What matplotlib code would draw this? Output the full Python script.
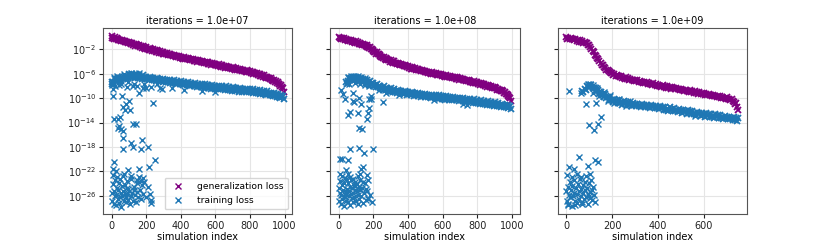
import numpy as np
import matplotlib
matplotlib.use("Agg")
import matplotlib.pyplot as plt

# iteration counts, one panel each
iterations = [1.0e7, 1.0e8, 1.0e9]

# ---- panel 1 (1e7) : log10 of losses, every 5th simulation ----
gen1_x = np.arange(0, 1000, 5)
gen1_log = [
    0.12, -0.13, -0.07, -0.29, -0.03, -0.28, -0.19, -0.44, -0.24, -0.49,
    -0.43, -0.65, -0.39, -0.64, -0.55, -0.80, -0.60, -0.85, -0.79, -1.01,
    -0.75, -1.00, -0.91, -1.16, -0.96, -1.21, -1.15, -1.37, -1.11, -1.36,
    -1.27, -1.52, -1.32, -1.57, -1.51, -1.73, -1.47, -1.72, -1.63, -1.88,
    -1.68, -1.92, -1.86, -2.07, -1.81, -2.05, -1.96, -2.20, -2.00, -2.24,
    -2.18, -2.39, -2.13, -2.37, -2.28, -2.52, -2.32, -2.56, -2.50, -2.71,
    -2.45, -2.69, -2.59, -2.83, -2.62, -2.86, -2.79, -3.00, -2.73, -2.97,
    -2.87, -3.11, -2.90, -3.14, -3.07, -3.28, -3.01, -3.25, -3.15, -3.39,
    -3.18, -3.41, -3.34, -3.54, -3.27, -3.50, -3.40, -3.63, -3.42, -3.65,
    -3.58, -3.78, -3.51, -3.74, -3.64, -3.87, -3.66, -3.89, -3.82, -4.02,
    -3.75, -3.98, -3.88, -4.11, -3.90, -4.13, -4.06, -4.26, -3.99, -4.22,
    -4.12, -4.35, -4.14, -4.37, -4.30, -4.50, -4.23, -4.46, -4.36, -4.59,
    -4.38, -4.61, -4.54, -4.74, -4.47, -4.70, -4.60, -4.83, -4.62, -4.85,
    -4.78, -4.98, -4.71, -4.94, -4.84, -5.07, -4.86, -5.09, -5.02, -5.22,
    -4.95, -5.18, -5.08, -5.31, -5.10, -5.33, -5.26, -5.46, -5.19, -5.42,
    -5.32, -5.55, -5.34, -5.57, -5.50, -5.70, -5.43, -5.66, -5.56, -5.79,
    -5.58, -5.82, -5.76, -5.97, -5.71, -5.95, -5.86, -6.10, -5.90, -6.14,
    -6.08, -6.30, -6.05, -6.30, -6.22, -6.47, -6.28, -6.53, -6.48, -6.70,
    -6.45, -6.72, -6.66, -6.93, -6.76, -7.03, -7.00, -7.24, -7.01, -7.28,
    -7.22, -7.52, -7.38, -7.68, -7.68, -8.00, -7.85, -8.25, -8.37, -8.92,
]
train1_x = np.arange(0, 1000, 5)
train1_log = [
    -7.36, -7.66, -7.36, -7.60, -6.90, -7.22, -6.89, -7.21, -6.66, -7.03,
    -6.81, -7.12, -6.50, -6.85, -6.54, -6.89, -6.36, -6.71, -6.46, -6.75,
    -6.10, -6.47, -6.19, -6.56, -6.06, -6.46, -6.28, -6.63, -6.05, -6.47,
    -6.24, -6.67, -6.22, -6.65, -6.48, -6.85, -6.28, -6.71, -6.48, -6.91,
    -6.46, -6.88, -6.70, -7.06, -6.48, -6.90, -6.66, -7.08, -6.62, -7.04,
    -6.86, -7.22, -6.64, -7.06, -6.82, -7.24, -6.78, -7.20, -7.02, -7.38,
    -6.80, -7.22, -6.98, -7.40, -6.94, -7.36, -7.18, -7.54, -6.96, -7.38,
    -7.14, -7.56, -7.10, -7.52, -7.34, -7.70, -7.12, -7.54, -7.30, -7.72,
    -7.26, -7.68, -7.50, -7.86, -7.28, -7.70, -7.46, -7.88, -7.42, -7.84,
    -7.66, -8.02, -7.44, -7.86, -7.62, -8.04, -7.58, -8.00, -7.82, -8.18,
    -7.60, -8.02, -7.77, -8.19, -7.72, -8.14, -7.95, -8.31, -7.72, -8.14,
    -7.89, -8.31, -7.85, -8.26, -8.06, -8.42, -7.85, -8.26, -8.01, -8.42,
    -7.96, -8.38, -8.19, -8.55, -7.96, -8.38, -8.13, -8.54, -8.08, -8.50,
    -8.31, -8.67, -8.08, -8.50, -8.26, -8.68, -8.20, -8.62, -8.43, -8.79,
    -8.20, -8.62, -8.37, -8.79, -8.32, -8.74, -8.55, -8.91, -8.32, -8.74,
    -8.49, -8.91, -8.45, -8.86, -8.66, -9.02, -8.45, -8.86, -8.61, -9.02,
    -8.56, -8.98, -8.80, -9.16, -8.58, -9.00, -8.76, -9.18, -8.72, -9.14,
    -8.96, -9.32, -8.74, -9.16, -8.92, -9.34, -8.88, -9.30, -9.12, -9.48,
    -8.90, -9.33, -9.10, -9.53, -9.08, -9.51, -9.34, -9.71, -9.14, -9.57,
    -9.34, -9.78, -9.34, -9.78, -9.62, -9.98, -9.54, -9.88, -9.70, -10.10,
]
# scattered training runs (index, log10 loss)
scat1_x = [8, 8, 61, 103, 84, 80, 107, 69, 122, 160, 179, 242, 290, 17, 36, 50,
           36, 55, 65, 46, 122, 141, 65, 65, 112, 122, 175, 170, 213, 17, 8, 23,
           93, 160, 217, 251, 227, 179, 170,
           20, 45, 90, 130, 150, 200, 230, 280, 350, 420, 520, 600,
           15, 30, 70, 110, 140, 160, 5, 55, 95, 185, 260]
scat1_log = [-8.5, -9.7, -9.6, -10.5, -11.0, -11.9, -12.0, -11.5, -8.0, -9.1, -8.3, -10.8, -8.5, -13.4, -13.4, -13.1,
             -14.9, -15.1, -15.4, -14.6, -14.3, -14.3, -16.5, -18.3, -17.3, -18.0, -16.8, -18.3, -18.0, -20.4, -21.7, -22.0,
             -21.8, -21.6, -21.3, -20.2, -26.7, -23.1, -23.6,
             -8.0, -7.8, -8.2, -7.6, -8.0, -8.3, -8.1, -8.3, -8.4, -8.6, -8.8, -9.0,
             -6.5, -6.3, -6.0, -5.9, -6.0, -5.8, -7.9, -7.6, -7.4, -7.6, -7.7]
clus1_x = [2, 5, 8, 12, 15, 18, 22, 25, 28, 32, 35, 38, 42, 45, 48, 52, 55, 58, 62, 65,
           68, 72, 75, 78, 82, 85, 88, 92, 95, 98, 102, 105, 110, 115, 120, 125, 130, 135, 140, 145,
           150, 155, 160, 165, 170, 175, 180, 190, 200, 210, 220, 230, 10, 30, 50, 70, 90, 110, 130, 150]
clus1_log = [-25.6, -26.8, -24.1, -27.3, -25.2, -26.1, -23.4, -27.6, -25.9, -24.7, -26.5, -25.1, -27.2, -23.9, -26.3,
             -25.5, -27.8, -24.4, -26.0, -25.3, -22.8, -26.9, -25.7, -24.2, -27.1, -26.2, -23.6, -25.8, -26.7, -24.9,
             -25.2, -27.4, -26.1, -23.3, -25.6, -26.8, -24.5, -25.9, -27.0, -24.0, -25.4, -26.3, -23.0, -25.1, -26.6,
             -24.3, -25.8, -23.8, -26.2, -24.6, -25.7, -27.2, -22.6, -22.9, -23.2, -22.4, -24.8, -22.7, -25.0, -23.5]

# ---- panel 2 (1e8) ----
gen2_x = np.arange(0, 1000, 5)
gen2_log = [
    0.07, -0.17, -0.11, -0.32, -0.06, -0.30, -0.21, -0.45, -0.25, -0.49,
    -0.43, -0.64, -0.38, -0.62, -0.53, -0.77, -0.57, -0.81, -0.75, -0.96,
    -0.70, -0.95, -0.86, -1.11, -0.91, -1.16, -1.10, -1.32, -1.06, -1.31,
    -1.22, -1.50, -1.34, -1.62, -1.60, -1.85, -1.66, -1.97, -1.95, -2.26,
    -2.13, -2.43, -2.43, -2.70, -2.50, -2.80, -2.77, -3.07, -2.93, -3.23,
    -3.23, -3.47, -3.24, -3.50, -3.44, -3.70, -3.53, -3.79, -3.76, -3.99,
    -3.75, -4.00, -3.92, -4.17, -3.98, -4.23, -4.18, -4.40, -4.15, -4.40,
    -4.32, -4.57, -4.38, -4.63, -4.58, -4.80, -4.55, -4.80, -4.72, -4.97,
    -4.78, -5.02, -4.96, -5.16, -4.90, -5.14, -5.05, -5.28, -5.08, -5.32,
    -5.26, -5.46, -5.20, -5.44, -5.35, -5.58, -5.38, -5.62, -5.56, -5.76,
    -5.50, -5.73, -5.63, -5.86, -5.65, -5.88, -5.81, -6.01, -5.74, -5.97,
    -5.87, -6.10, -5.89, -6.12, -6.05, -6.25, -5.98, -6.21, -6.11, -6.34,
    -6.13, -6.36, -6.29, -6.49, -6.22, -6.45, -6.35, -6.58, -6.37, -6.60,
    -6.53, -6.73, -6.46, -6.69, -6.59, -6.82, -6.61, -6.84, -6.77, -6.97,
    -6.70, -6.93, -6.84, -7.07, -6.86, -7.09, -7.03, -7.23, -6.96, -7.19,
    -7.10, -7.33, -7.12, -7.35, -7.29, -7.49, -7.22, -7.45, -7.36, -7.59,
    -7.38, -7.62, -7.56, -7.77, -7.51, -7.75, -7.66, -7.90, -7.70, -7.94,
    -7.88, -8.09, -7.83, -8.07, -7.98, -8.22, -8.02, -8.26, -8.20, -8.41,
    -8.15, -8.41, -8.34, -8.60, -8.42, -8.68, -8.64, -8.87, -8.63, -8.89,
    -8.82, -9.12, -8.98, -9.28, -9.33, -9.65, -9.50, -9.85, -9.97, -10.52,
]
train2_x = np.arange(40, 1000, 5)
train2_log = [
    -7.36, -7.61, -7.26, -7.45, -6.70, -7.05, -6.74, -7.09, -6.56, -6.96,
    -6.76, -7.10, -6.50, -6.93, -6.71, -7.14, -6.69, -7.13, -6.96, -7.35,
    -6.80, -7.25, -7.04, -7.49, -7.06, -7.52, -7.39, -7.79, -7.25, -7.71,
    -7.52, -7.98, -7.56, -8.01, -7.86, -8.25, -7.70, -8.15, -7.94, -8.39,
    -7.96, -8.41, -8.26, -8.64, -8.08, -8.52, -8.30, -8.74, -8.30, -8.74,
    -8.58, -8.96, -8.40, -8.83, -8.59, -9.02, -8.56, -8.99, -8.81, -9.18,
    -8.60, -9.03, -8.79, -9.22, -8.76, -9.19, -9.01, -9.38, -8.80, -9.23,
    -8.99, -9.42, -8.96, -9.38, -9.20, -9.56, -8.98, -9.40, -9.16, -9.58,
    -9.12, -9.54, -9.36, -9.72, -9.14, -9.56, -9.32, -9.74, -9.28, -9.70,
    -9.52, -9.88, -9.30, -9.71, -9.47, -9.88, -9.42, -9.83, -9.65, -10.00,
    -9.42, -9.83, -9.59, -10.00, -9.54, -9.95, -9.77, -10.12, -9.54, -9.95,
    -9.71, -10.12, -9.66, -10.07, -9.89, -10.24, -9.66, -10.07, -9.83, -10.24,
    -9.78, -10.19, -10.01, -10.36, -9.78, -10.19, -9.95, -10.36, -9.90, -10.31,
    -10.13, -10.49, -9.90, -10.32, -10.08, -10.50, -10.04, -10.46, -10.28, -10.64,
    -10.06, -10.48, -10.24, -10.66, -10.20, -10.62, -10.44, -10.80, -10.22, -10.64,
    -10.40, -10.82, -10.36, -10.78, -10.60, -10.96, -10.38, -10.80, -10.56, -10.98,
    -10.52, -10.94, -10.76, -11.12, -10.54, -10.96, -10.72, -11.14, -10.68, -11.10,
    -10.92, -11.28, -10.70, -11.13, -10.89, -11.32, -10.86, -11.29, -11.11, -11.48,
    -10.90, -11.33, -11.09, -11.52, -11.06, -11.49, -11.31, -11.68, -11.10, -11.53,
    -11.30, -11.74,
]
scat2_x = [13, 33, 23, 81, 85, 119, 129, 52, 65, 110, 167, 173, 162, 177, 187, 119, 135, 254,
           196, 115, 65, 148, 4, 19, 52, 42, 138, 129, 167, 186, 81,
           50, 70, 90, 110, 130, 150, 60, 95, 125, 175, 150, 230, 270, 350, 550, 720, 740]
scat2_log = [-8.6, -10.2, -9.4, -9.1, -10.7, -9.9, -11.0, -12.7, -12.3, -12.4, -12.4, -11.6, -13.5, -10.2, -9.7, -14.9, -15.0, -10.7,
             -18.3, -18.2, -18.4, -19.0, -20.0, -20.0, -20.1, -21.8, -21.3, -21.7, -23.5, -10.2, -10.5,
             -6.5, -6.3, -6.4, -6.3, -6.5, -6.7, -7.6, -7.5, -7.7, -8.0, -7.8, -8.7, -9.1, -9.5, -10.3, -11.0, -11.1]
clus2_x = [0, 3, 6, 9, 12, 15, 18, 21, 24, 27, 30, 33, 36, 39, 42, 45, 48, 51, 54, 57,
           60, 63, 66, 69, 72, 75, 78, 81, 84, 87, 90, 93, 96, 99, 102, 105, 108, 111, 114, 117,
           120, 125, 130, 135, 140, 145, 150, 155, 160, 165, 170, 180, 190,
           5, 20, 35, 50, 65, 80, 95, 110, 125, 140, 155, 170]
clus2_log = [-24.8, -26.9, -25.5, -23.6, -27.4, -25.9, -24.3, -26.6, -25.1, -27.7, -24.0, -26.2, -25.7, -23.2, -26.8,
             -24.9, -25.4, -27.1, -23.9, -26.0, -25.2, -24.5, -27.5, -25.8, -23.4, -26.4, -24.7, -25.6, -27.0, -24.2,
             -26.3, -25.0, -23.7, -26.9, -25.3, -24.1, -27.3, -25.9, -24.6, -26.5, -25.1, -23.5, -26.1, -24.8, -27.2,
             -25.5, -24.0, -26.7, -22.6, -25.2, -26.4, -25.9, -27.0,
             -22.5, -22.8, -23.1, -22.4, -22.9, -23.3, -24.4, -22.7, -22.4, -23.8, -24.9, -26.6]

# ---- panel 3 (1e9) ----
gen3_x = np.arange(0, 755, 5)
gen3_log = [
    0.02, -0.22, -0.16, -0.37, -0.11, -0.35, -0.26, -0.50, -0.30, -0.54,
    -0.48, -0.71, -0.47, -0.74, -0.67, -0.93, -0.75, -1.02, -0.98, -1.32,
    -1.28, -1.65, -1.86, -2.26, -2.44, -2.84, -3.09, -3.48, -3.63, -3.98,
    -4.16, -4.51, -4.64, -4.94, -5.09, -5.32, -5.33, -5.58, -5.66, -5.88,
    -5.83, -6.12, -6.11, -6.36, -6.15, -6.41, -6.34, -6.60, -6.41, -6.67,
    -6.63, -6.85, -6.59, -6.84, -6.75, -7.00, -6.80, -7.05, -6.99, -7.21,
    -6.95, -7.19, -7.10, -7.34, -7.14, -7.38, -7.32, -7.53, -7.27, -7.51,
    -7.42, -7.66, -7.46, -7.70, -7.64, -7.85, -7.58, -7.83, -7.74, -7.98,
    -7.78, -8.02, -7.95, -8.16, -7.89, -8.13, -8.03, -8.27, -8.06, -8.30,
    -8.23, -8.44, -8.17, -8.41, -8.31, -8.55, -8.34, -8.58, -8.51, -8.72,
    -8.45, -8.69, -8.60, -8.81, -8.60, -8.85, -8.79, -8.99, -8.73, -8.97,
    -8.87, -9.11, -8.90, -9.14, -9.07, -9.28, -9.01, -9.25, -9.15, -9.39,
    -9.18, -9.42, -9.35, -9.56, -9.30, -9.54, -9.44, -9.67, -9.46, -9.70,
    -9.63, -9.84, -9.57, -9.81, -9.71, -9.95, -9.74, -9.98, -9.91, -10.12,
    -9.85, -10.12, -10.07, -10.34, -10.18, -10.53, -10.58, -10.95, -10.85, -11.45,
    -11.95,
]
train3_x = np.arange(70, 755, 5)
train3_log = [
    -8.82, -8.92, -8.57, -8.62, -8.03, -8.18, -7.78, -8.13, -7.82, -8.27,
    -8.26, -8.75, -8.30, -8.85, -8.74, -9.29, -8.96, -9.48, -9.40, -9.86,
    -9.38, -9.90, -9.74, -10.24, -9.86, -10.36, -10.26, -10.65, -10.10, -10.55,
    -10.34, -10.79, -10.36, -10.81, -10.66, -11.05, -10.50, -10.93, -10.70, -11.13,
    -10.68, -11.11, -10.94, -11.31, -10.74, -11.17, -10.94, -11.36, -10.90, -11.32,
    -11.14, -11.50, -10.92, -11.34, -11.10, -11.52, -11.06, -11.48, -11.30, -11.66,
    -11.08, -11.50, -11.26, -11.68, -11.22, -11.64, -11.46, -11.83, -11.26, -11.69,
    -11.46, -11.89, -11.44, -11.87, -11.70, -12.07, -11.50, -11.93, -11.70, -12.13,
    -11.68, -12.11, -11.94, -12.31, -11.74, -12.17, -11.94, -12.37, -11.92, -12.35,
    -12.18, -12.55, -11.98, -12.41, -12.18, -12.61, -12.16, -12.59, -12.42, -12.79,
    -12.22, -12.65, -12.42, -12.85, -12.40, -12.83, -12.66, -13.02, -12.45, -12.87,
    -12.64, -13.06, -12.61, -13.03, -12.86, -13.22, -12.65, -13.07, -12.84, -13.26,
    -12.81, -13.23, -13.06, -13.42, -12.85, -13.27, -13.04, -13.47, -13.02, -13.45,
    -13.28, -13.65, -13.08, -13.51, -13.28, -13.71, -13.26,
]
scat3_x = [14, 65, 87, 130, 151, 101, 123, 137, 116, 145, 58, 14, 124, 139, 93, 33,
           95, 105, 115, 120, 135, 145, 160, 165, 180, 190, 210, 230, 260, 280, 560]
scat3_log = [-8.8, -9.1, -10.9, -10.8, -13.1, -14.4, -15.3, -14.2, -9.2, -9.6, -19.7, -21.3, -20.1, -20.4, -21.2, -21.7,
             -7.7, -7.6, -7.9, -8.2, -8.4, -8.9, -9.6, -9.0, -10.4, -9.5, -10.8, -10.2, -11.3, -10.4, -12.9]
clus3_x = [0, 3, 6, 9, 12, 15, 18, 21, 24, 27, 30, 33, 36, 39, 42, 45, 48, 51, 54, 57,
           60, 63, 66, 69, 72, 75, 78, 81, 84, 87, 90, 93, 96, 99, 102, 105, 108, 111, 114, 117,
           120, 125, 5, 25, 45, 65, 85, 105, 10, 40, 70, 100]
clus3_log = [-25.3, -26.8, -24.6, -27.4, -25.9, -23.8, -26.3, -25.0, -27.7, -24.4, -26.0, -25.5, -23.5, -26.9, -24.8,
             -25.7, -27.2, -24.1, -26.5, -25.2, -23.2, -26.1, -24.9, -27.0, -25.6, -24.3, -26.6, -25.1, -23.7, -26.2,
             -24.7, -25.8, -27.3, -24.0, -25.4, -26.4, -23.4, -25.0, -26.7, -24.5, -25.9, -27.1,
             -22.6, -22.9, -22.4, -23.0, -22.7, -22.5, -27.6, -27.5, -27.4, -26.0]

panels = [
    (gen1_x, gen1_log, train1_x, train1_log, [scat1_x, clus1_x], [scat1_log, clus1_log]),
    (gen2_x, gen2_log, train2_x, train2_log, [scat2_x, clus2_x], [scat2_log, clus2_log]),
    (gen3_x, gen3_log, train3_x, train3_log, [scat3_x, clus3_x], [scat3_log, clus3_log]),
]

PURPLE = 'purple'
BLUE = 'tab:blue'

plt.rcParams['font.size'] = 7
fig, axes = plt.subplots(1, 3, figsize=(8.3, 2.42), dpi=100, sharey=True)
fig.subplots_adjust(left=0.124, right=0.9, bottom=0.116, top=0.884, wspace=0.2)

for ax, it, (gx, gy, bx, by, sx_parts, sy_parts) in zip(axes, iterations, panels):
    sx = np.concatenate([np.asarray(p, dtype=float) for p in sx_parts])
    sy = np.concatenate([np.asarray(p, dtype=float) for p in sy_parts])
    # dense bands drawn a touch heavier so they read as solid like the original
    ax.plot(gx, 10.0 ** np.asarray(gy), 'x', color=PURPLE, ms=4.2, mew=1.3,
            label='generalization loss')
    ax.plot(bx, 10.0 ** np.asarray(by), 'x', color=BLUE, ms=4.2, mew=1.3,
            label='training loss')
    ax.plot(sx, 10.0 ** sy, 'x', color=BLUE, ms=3.8, mew=1.0)
    ax.set_yscale('log')
    ax.set_title('iterations = %.1e' % it, fontsize=7, pad=3)
    ax.set_xlabel('simulation index', labelpad=1)
    ax.grid(True, color='#e5e5e5', lw=0.8)
    ax.set_axisbelow(True)
    for s in ax.spines.values():
        s.set_color('#555555')
    ax.tick_params(length=3, pad=2, colors='#222222')

axes[0].set_yticks([10.0 ** k for k in range(-26, 0, 4)])
axes[0].yaxis.set_minor_locator(matplotlib.ticker.NullLocator())
axes[0].set_ylim(10.0 ** -29, 10.0 ** 1.5)

# legend uses plain thin markers like the original
from matplotlib.lines import Line2D
handles = [Line2D([], [], ls='none', marker='x', color=PURPLE, ms=3.8, mew=1.0),
           Line2D([], [], ls='none', marker='x', color=BLUE, ms=3.8, mew=1.0)]
axes[0].legend(handles, ['generalization loss', 'training loss'], loc='lower right',
               fontsize=6.6, handletextpad=1.0, borderpad=0.5)

fig.savefig('out.png', dpi=100)
